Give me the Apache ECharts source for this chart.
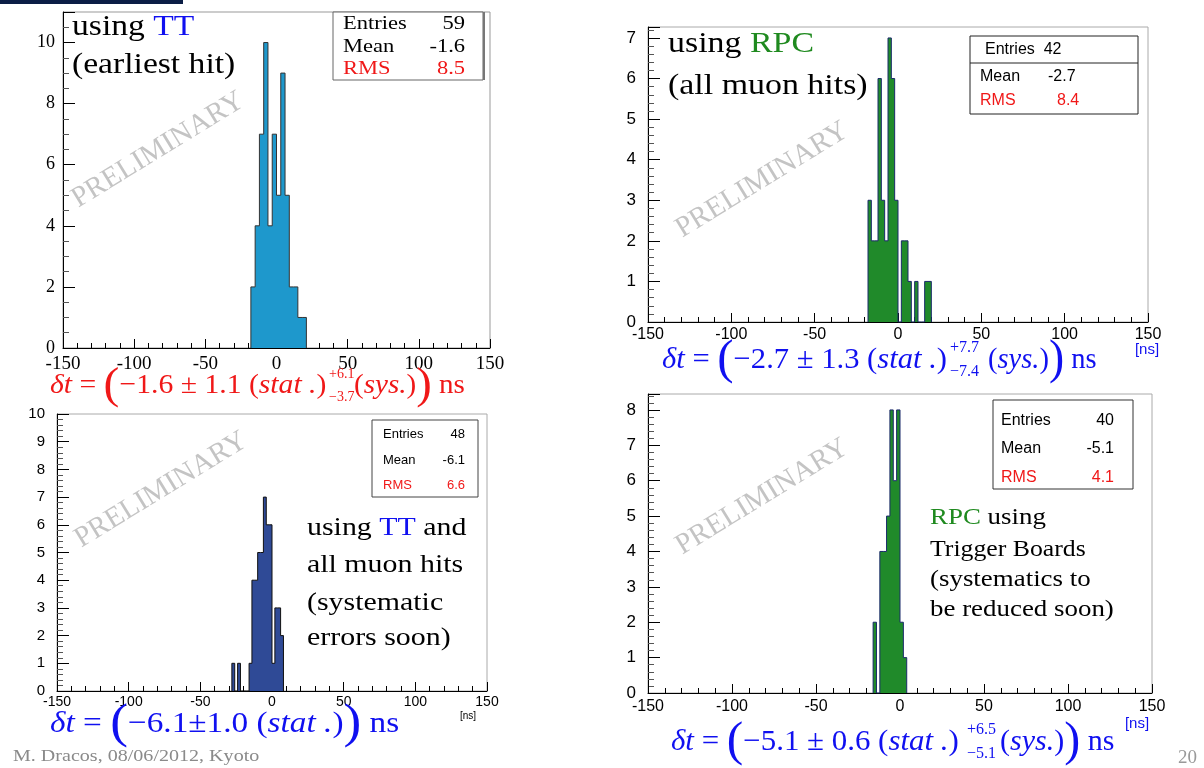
<!DOCTYPE html>
<html>
<head>
<meta charset="utf-8">
<script src="https://cdn.jsdelivr.net/npm/echarts@6/dist/echarts.min.js"></script>
<style>
html, body { margin: 0; padding: 0; background: #fff; }
#main { width: 1204px; height: 768px; }
</style>
</head>
<body>
<div id="main"></div>
<script>
// TT, earliest hit (3 ns bins)
const ttLow = [-18, -15, -12, -9, -6, -3, 0, 3, 6, 9, 12, 15, 18];
const ttCounts = [2, 4, 7, 10, 4, 7, 5, 9, 5, 2, 2, 1, 1];
const ttWidth = 3;

// RPC, all muon hits (2 ns bins)
const rpcLow = [-18, -16, -14, -12, -10, -8, -6, -4, -2, 0, 2, 4, 6, 8, 10, 12, 14, 16, 18];
const rpcCounts = [3, 2, 2, 6, 3, 2, 7, 6, 3, 0, 2, 2, 1, 0, 1, 0, 0, 1, 1];
const rpcWidth = 2;

// TT and all muon hits (2 ns bins)
const ttAllLow = [-28, -26, -24, -22, -20, -18, -16, -14, -12, -10, -8, -6, -4, -2, 0, 2, 4, 6];
const ttAllCounts = [1, 0, 1, 0, 0, 0, 1, 4, 4, 5, 5, 7, 6, 6, 1, 3, 3, 2];
const ttAllWidth = 2;

// RPC using trigger boards (2 ns bins)
const trigLow = [-16, -14, -12, -10, -8, -6, -4, -2, 0, 2];
const trigCounts = [2, 0, 4, 4, 5, 8, 6, 8, 2, 1];
const trigWidth = 2;

const xTicks = [-150, 150, 50];   // min, max, interval

const SERIF = '"Liberation Serif", "DejaVu Serif", serif';
const SANS = '"Liberation Sans", "DejaVu Sans", sans-serif';
const RED = '#f01818';
const BLUE = '#1010f0';
const GREEN = '#1f8a1f';

const chart = echarts.init(document.getElementById('main'));

// step outline of a histogram, filled underneath
function histSeries(idx, low, counts, width, fill, line) {
  const pts = [[low[0], 0]];
  low.forEach((x, i) => pts.push([x, counts[i]]));
  pts.push([low[low.length - 1] + width, 0]);
  return {
    type: 'line', xAxisIndex: idx, yAxisIndex: idx,
    step: 'end', showSymbol: false, silent: true,
    data: pts,
    lineStyle: { color: line, width: 1 },
    areaStyle: { color: fill, opacity: 1 }
  };
}

function xAxis(idx, font, size, margin) {
  return {
    gridIndex: idx, type: 'value', min: xTicks[0], max: xTicks[1], interval: xTicks[2],
    axisLine: { show: true, onZero: false, lineStyle: { color: '#000', width: 1 } },
    axisTick: { show: true, inside: true, length: 9, lineStyle: { color: '#000' } },
    minorTick: { show: true, splitNumber: 5, length: 5, lineStyle: { color: '#000' } },
    splitLine: { show: false },
    axisLabel: { fontFamily: font, fontSize: size, color: '#000', margin: margin }
  };
}

function yAxis(idx, max, interval, font, size, margin, minor) {
  return {
    gridIndex: idx, type: 'value', min: 0, max: max, interval: interval,
    axisLine: { show: true, onZero: false, lineStyle: { color: '#000', width: 1 } },
    axisTick: { show: true, inside: true, length: 12, lineStyle: { color: '#000' } },
    minorTick: { show: true, splitNumber: minor, length: 6, lineStyle: { color: '#555' } },
    splitLine: { show: false },
    axisLabel: { fontFamily: font, fontSize: size, color: '#000', margin: margin, showMaxLabel: Number.isInteger(max / interval) }
  };
}

function txt(x, y, text, o) {
  o = o || {};
  return {
    type: 'text', x: x, y: y, rotation: o.rot || 0, scaleX: o.sx || 1, silent: true, z: 100,
    style: {
      text: text, fill: o.color || '#000',
      fontFamily: o.family || SERIF, fontSize: o.size || 16,
      fontStyle: o.italic ? 'italic' : 'normal',
      align: o.align || 'left', textAlign: o.align || 'left',
      verticalAlign: 'middle', textVerticalAlign: 'middle',
      rich: o.rich
    }
  };
}

function box(x, y, w, h, o) {
  o = o || {};
  return {
    type: 'rect', silent: true, z: 90,
    shape: { x: x, y: y, width: w, height: h },
    style: { fill: o.fill || '#fff', stroke: o.stroke || '#333', lineWidth: o.lw || 1 }
  };
}

function lineEl(x1, y1, x2, y2, color, w) {
  return { type: 'line', silent: true, z: 95, shape: { x1, y1, x2, y2 }, style: { stroke: color, lineWidth: w || 1 } };
}

function richStyles(color, size) {
  return {
    n: { fontFamily: SERIF, fontSize: size, fill: color },
    i: { fontFamily: SERIF, fontSize: size, fill: color, fontStyle: 'italic' },
    p: { fontFamily: SERIF, fontSize: size * 1.6, fill: color }
  };
}

function prelim(x, y) {
  return txt(x, y, 'PRELIMINARY', { size: 29, color: '#c4c4c4', align: 'center', rot: 0.55 });
}

const graphics = [
  { type: 'rect', silent: true, shape: { x: 0, y: 0, width: 183, height: 4 }, style: { fill: '#0b1d45' } },

  // top left panel
  prelim(158, 150),
  txt(72, 27, 'using {b|TT}', { size: 30, sx: 1.12, rich: { b: { fontFamily: SERIF, fontSize: 30, fill: BLUE } } }),
  txt(72, 65, '(earliest hit)', { size: 30, sx: 1.12 }),
  box(333, 12, 150, 68, { stroke: '#666' }),
  lineEl(484, 12, 484, 80, '#777', 2),
  txt(343, 24, 'Entries', { size: 18, sx: 1.25 }),
  txt(465, 24, '59', { size: 18, sx: 1.25, align: 'right' }),
  txt(343, 47, 'Mean', { size: 18, sx: 1.25 }),
  txt(465, 47, '-1.6', { size: 18, sx: 1.25, align: 'right' }),
  txt(343, 69, 'RMS', { size: 18, sx: 1.25, color: RED }),
  txt(465, 69, '8.5', { size: 18, sx: 1.25, align: 'right', color: RED }),
  txt(50, 386, '{i|δt}{n| = }{p|(}{n|−1.6 ± 1.1 (}{i|stat .}{n|)}', { sx: 1.06, rich: richStyles(RED, 28) }),
  txt(329, 374, '+6.1', { size: 14, color: RED }),
  txt(329, 397, '−3.7', { size: 14, color: RED }),
  txt(354, 386, '{n|(}{i|sys.}{n|)}{p|)}{n| ns}', { sx: 1.04, rich: richStyles(RED, 28) }),

  // top right panel
  prelim(762, 180),
  txt(668, 44, 'using {g|RPC}', { size: 30, sx: 1.13, rich: { g: { fontFamily: SERIF, fontSize: 30, fill: GREEN } } }),
  txt(668, 86, '(all muon hits)', { size: 30, sx: 1.13 }),
  box(970, 36, 168, 78, { stroke: '#222' }),
  lineEl(970, 63, 1138, 63, '#222', 1),
  txt(985, 50, 'Entries  42', { family: SANS, size: 16 }),
  txt(980, 77, 'Mean', { family: SANS, size: 16 }),
  txt(1048, 77, '-2.7', { family: SANS, size: 16 }),
  txt(980, 101, 'RMS', { family: SANS, size: 16, color: RED }),
  txt(1057, 101, '8.4', { family: SANS, size: 16, color: RED }),
  txt(662, 360, '{i|δt}{n| = }{p|(}{n|−2.7 ± 1.3 (}{i|stat .}{n|)}', { sx: 1.02, rich: richStyles(BLUE, 30) }),
  txt(950, 348, '+7.7', { size: 16, color: BLUE }),
  txt(950, 372, '−7.4', { size: 16, color: BLUE }),
  txt(988, 360, '{n|(}{i|sys.}{n|)}{p|)}{n| ns}', { sx: 0.95, rich: richStyles(BLUE, 30) }),
  txt(1147, 350, '[ns]', { family: SANS, size: 15, align: 'center', color: BLUE }),

  // bottom left panel
  prelim(161, 490),
  txt(307, 528, 'using {b|TT} and', { size: 26, sx: 1.15, rich: { b: { fontFamily: SERIF, fontSize: 26, fill: BLUE } } }),
  txt(307, 565, 'all muon hits', { size: 26, sx: 1.15 }),
  txt(307, 603, '(systematic', { size: 26, sx: 1.15 }),
  txt(307, 638, 'errors soon)', { size: 26, sx: 1.15 }),
  box(372, 420, 106, 77, { stroke: '#444' }),
  txt(383, 434, 'Entries', { family: SANS, size: 13 }),
  txt(465, 434, '48', { family: SANS, size: 13, align: 'right' }),
  txt(383, 460, 'Mean', { family: SANS, size: 13 }),
  txt(465, 460, '-6.1', { family: SANS, size: 13, align: 'right' }),
  txt(383, 485, 'RMS', { family: SANS, size: 13, color: RED }),
  txt(465, 485, '6.6', { family: SANS, size: 13, align: 'right', color: RED }),
  txt(50, 724, '{i|δt}{n| = }{p|(}{n|−6.1±1.0 (}{i|stat .}{n|)}{p|)}{n| ns}', { sx: 1.11, rich: richStyles(BLUE, 30) }),
  txt(468, 716, '[ns]', { family: SANS, size: 10, align: 'center' }),
  txt(13, 757, 'M. Dracos, 08/06/2012, Kyoto', { size: 17, sx: 1.18, color: '#8a8a8a' }),

  // bottom right panel
  prelim(762, 497),
  txt(930, 518, '{g|RPC} using', { size: 23, sx: 1.17, rich: { g: { fontFamily: SERIF, fontSize: 23, fill: GREEN } } }),
  txt(930, 550, 'Trigger Boards', { size: 23, sx: 1.12 }),
  txt(930, 580, '(systematics to', { size: 23, sx: 1.17 }),
  txt(930, 610, 'be reduced soon)', { size: 23, sx: 1.17 }),
  box(993, 400, 140, 89, { stroke: '#333' }),
  txt(1001, 421, 'Entries', { family: SANS, size: 16 }),
  txt(1114, 421, '40', { family: SANS, size: 16, align: 'right' }),
  txt(1001, 449, 'Mean', { family: SANS, size: 16 }),
  txt(1114, 449, '-5.1', { family: SANS, size: 16, align: 'right' }),
  txt(1001, 478, 'RMS', { family: SANS, size: 16, color: RED }),
  txt(1114, 478, '4.1', { family: SANS, size: 16, align: 'right', color: RED }),
  txt(671, 742, '{i|δt}{n| = }{p|(}{n|−5.1 ± 0.6 (}{i|stat .}{n|)}', { sx: 1.03, rich: richStyles(BLUE, 30) }),
  txt(967, 730, '+6.5', { size: 16, color: BLUE }),
  txt(967, 754, '−5.1', { size: 16, color: BLUE }),
  txt(1000, 742, '{n|(}{i|sys.}{n|)}{p|)}{n| ns}', { rich: richStyles(BLUE, 30) }),
  txt(1137, 724, '[ns]', { family: SANS, size: 15, align: 'center', color: BLUE }),
  txt(1178, 758, '20', { size: 19, color: '#999' })
];

const option = {
  animation: false,
  backgroundColor: '#fff',
  grid: [
    { left: 63, top: 12, width: 427, height: 336, show: true, borderColor: '#999', borderWidth: 1 },
    { left: 648, top: 27, width: 500, height: 295, show: true, borderColor: '#aaa', borderWidth: 1 },
    { left: 57, top: 414, width: 430, height: 277, show: true, borderColor: '#aaa', borderWidth: 1 },
    { left: 648, top: 394, width: 504, height: 299, show: true, borderColor: '#aaa', borderWidth: 1 }
  ],
  xAxis: [
    xAxis(0, SERIF, 19, 7),
    xAxis(1, SANS, 16, 5),
    xAxis(2, SANS, 14, 4),
    xAxis(3, SANS, 16, 6)
  ],
  yAxis: [
    yAxis(0, 11, 2, SERIF, 18, 8, 4),
    yAxis(1, 7.27, 1, SANS, 17, 12, 5),
    yAxis(2, 10, 1, SANS, 15, 12, 5),
    yAxis(3, 8.45, 1, SANS, 17, 12, 5)
  ],
  series: [
    histSeries(0, ttLow, ttCounts, ttWidth, '#1e98cc', '#333'),
    histSeries(1, rpcLow, rpcCounts, rpcWidth, '#208a2a', '#1a2a6a'),
    histSeries(2, ttAllLow, ttAllCounts, ttAllWidth, '#2f4a96', '#111'),
    histSeries(3, trigLow, trigCounts, trigWidth, '#208a2a', '#1a2a6a')
  ],
  graphic: graphics
};

chart.setOption(option);
</script>
</body>
</html>
